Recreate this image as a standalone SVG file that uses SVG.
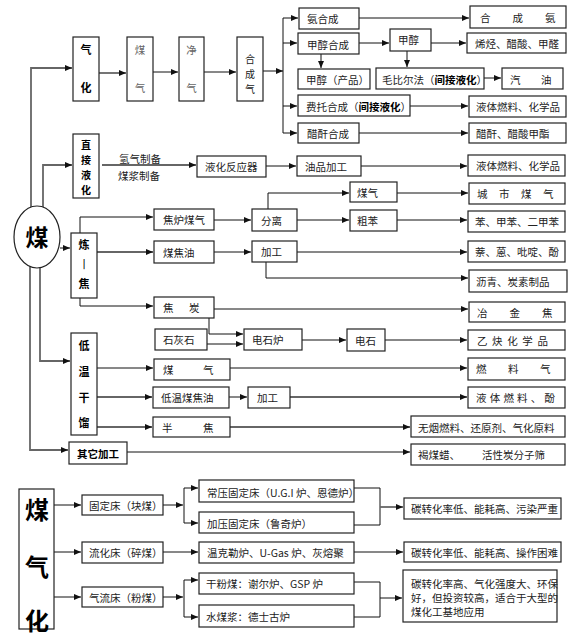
<svg xmlns="http://www.w3.org/2000/svg" width="576" height="635" viewBox="0 0 576 635">
<style>
.b{fill:#fff;stroke:#222;stroke-width:1.2}
.t{font-family:"Noto Sans CJK SC","Liberation Sans",sans-serif;font-size:10.5px;fill:#222;dominant-baseline:central}
.m{text-anchor:middle}
.k{font-weight:bold;fill:#000}
.v{font-size:10px}
.c{stroke:#111;stroke-width:1;fill:none}
.g{stroke:#666;stroke-width:1.8;fill:none}
</style>
<defs>
<marker id="a" markerWidth="7" markerHeight="6" refX="7" refY="3" orient="auto" markerUnits="userSpaceOnUse"><path d="M0,0 L7,3 L0,6 z" fill="#111"/></marker>
</defs>
<g id="connectors">
<path class="g" d="M31,237 V68 H72" marker-end="url(#a)"/>
<path class="g" d="M43,237 V165 H72" marker-end="url(#a)"/>
<path class="g" d="M99,73 H126" marker-end="url(#a)"/>
<path class="c" d="M153,72 H178" marker-end="url(#a)"/>
<path class="c" d="M204,72 H236" marker-end="url(#a)"/>
<path class="c" d="M263,71 H283" marker-end="url(#a)"/>
<path class="c" d="M283,18 V133"/>
<path class="c" d="M283,18 H298" marker-end="url(#a)"/>
<path class="c" d="M283,43 H297" marker-end="url(#a)"/>
<path class="c" d="M283,106 H297" marker-end="url(#a)"/>
<path class="c" d="M283,133 H297" marker-end="url(#a)"/>
<path class="c" d="M359,18 H469" marker-end="url(#a)"/>
<path class="c" d="M359,43 H389" marker-end="url(#a)"/>
<path class="c" d="M321,54 V68" marker-end="url(#a)"/>
<path class="c" d="M431,43 H466" marker-end="url(#a)"/>
<path class="c" d="M407,51 V67" marker-end="url(#a)"/>
<path class="c" d="M484,78 H501" marker-end="url(#a)"/>
<path class="c" d="M410,106 H468" marker-end="url(#a)"/>
<path class="c" d="M359,133 H468" marker-end="url(#a)"/>
<path class="g" d="M102,165 H196" marker-end="url(#a)"/>
<path class="c" d="M266,166 H296" marker-end="url(#a)"/>
<path class="c" d="M361,166 H467" marker-end="url(#a)"/>
<path class="c" d="M60,248 H70" marker-end="url(#a)"/>
<path class="c" d="M80,233 V217 H153" marker-end="url(#a)"/>
<path class="c" d="M214,220 H251" marker-end="url(#a)"/>
<path class="c" d="M268,209 V193 H349" marker-end="url(#a)"/>
<path class="c" d="M397,193 H468" marker-end="url(#a)"/>
<path class="c" d="M297,220 H349" marker-end="url(#a)"/>
<path class="c" d="M397,220 H467" marker-end="url(#a)"/>
<path class="g" d="M97,252 H153" marker-end="url(#a)"/>
<path class="c" d="M214,252 H251" marker-end="url(#a)"/>
<path class="c" d="M297,252 H467" marker-end="url(#a)"/>
<path class="c" d="M266,262 V278 H468" marker-end="url(#a)"/>
<path class="c" d="M80,298 V306 H153" marker-end="url(#a)"/>
<path class="c" d="M214,309 H468" marker-end="url(#a)"/>
<path class="c" d="M209,318 V334 H243" marker-end="url(#a)"/>
<path class="c" d="M207,344 H243" marker-end="url(#a)"/>
<path class="c" d="M302,340 H346" marker-end="url(#a)"/>
<path class="c" d="M385,340 H467" marker-end="url(#a)"/>
<path class="g" d="M40,237 V361 H70" marker-end="url(#a)"/>
<path class="c" d="M97,368 H153" marker-end="url(#a)"/>
<path class="c" d="M230,368 H467" marker-end="url(#a)"/>
<path class="g" d="M97,397 H152" marker-end="url(#a)"/>
<path class="c" d="M229,397 H247" marker-end="url(#a)"/>
<path class="g" d="M290,397 H467" marker-end="url(#a)"/>
<path class="g" d="M97,427 H152" marker-end="url(#a)"/>
<path class="g" d="M230,427 H410" marker-end="url(#a)"/>
<path class="g" d="M30,237 V450 H68" marker-end="url(#a)"/>
<path class="c" d="M127,452 H410" marker-end="url(#a)"/>
<path class="c" d="M54,505 H81" marker-end="url(#a)"/>
<path class="c" d="M163,505 H183" marker-end="url(#a)"/>
<path class="c" d="M184,488 V523"/>
<path class="c" d="M184,488 H198" marker-end="url(#a)"/>
<path class="c" d="M184,523 H198" marker-end="url(#a)"/>
<path class="c" d="M354,488 H380 V525 H354"/>
<path class="g" d="M380,507 H403" marker-end="url(#a)"/>
<path class="c" d="M54,552 H81" marker-end="url(#a)"/>
<path class="c" d="M163,552 H198" marker-end="url(#a)"/>
<path class="c" d="M354,552 H403" marker-end="url(#a)"/>
<path class="c" d="M54,597 H81" marker-end="url(#a)"/>
<path class="c" d="M163,597 H183" marker-end="url(#a)"/>
<path class="c" d="M184,580 V617"/>
<path class="c" d="M184,580 H198" marker-end="url(#a)"/>
<path class="c" d="M184,617 H198" marker-end="url(#a)"/>
<path class="c" d="M354,582 H380 V617 H354"/>
<path class="c" d="M380,598 H402" marker-end="url(#a)"/>
</g>
<g id="coal"><ellipse class="b" cx="37" cy="237" rx="23" ry="31"/><text class="t m k" x="37" y="236" style="font-size:23px">煤</text></g>
<g id="qihua"><rect class="b" x="73" y="37" width="26" height="64"/><text class="t m k" x="86" y="49" style="font-size:11px">气</text><text class="t m k" x="86" y="87" style="font-size:11px">化</text></g>
<g id="meiqi1"><rect class="b" x="127" y="37" width="26" height="64"/><text class="t m" x="140" y="49" style="fill:#666">煤</text><text class="t m" x="140" y="87" style="fill:#666">气</text></g>
<g id="jingqi"><rect class="b" x="179" y="37" width="25" height="64"/><text class="t m" x="191.5" y="49" style="fill:#666">净</text><text class="t m" x="191.5" y="87" style="fill:#666">气</text></g>
<g id="hechengqi"><rect class="b" x="237" y="37" width="26" height="64"/><text class="t m v" x="250" y="58">合</text><text class="t m v" x="250" y="73">成</text><text class="t m v" x="250" y="88">气</text></g>
<g id="anhecheng"><rect class="b" x="299" y="8" width="60" height="21"/><text class="t" x="307" y="18">氨合成</text></g>
<g id="hechengan"><rect class="b" x="470" y="6" width="96" height="22"/><text class="t" x="480" y="17" letter-spacing="22">合成氨</text></g>
<g id="jiachunhecheng"><rect class="b" x="298" y="33" width="61" height="21"/><text class="t" x="307" y="44">甲醇合成</text></g>
<g id="jiachun"><rect class="b" x="390" y="29" width="41" height="22"/><text class="t" x="398" y="39">甲醇</text></g>
<g id="xiting"><rect class="b" x="467" y="33" width="99" height="20"/><text class="t" x="475" y="43">烯烃、醋酸、甲醛</text></g>
<g id="jiachunchanpin"><rect class="b" x="298" y="69" width="72" height="20"/><text class="t" x="306" y="79">甲醇（产品）</text></g>
<g id="maobier"><rect class="b" x="376" y="68" width="108" height="21"/><text class="t" x="382" y="79">毛比尔法（<tspan class="k">间接液化</tspan>）</text></g>
<g id="qiyou"><rect class="b" x="502" y="68" width="61" height="21"/><text class="t" x="510" y="79" letter-spacing="20.5">汽油</text></g>
<g id="feituo"><rect class="b" x="298" y="95" width="112" height="21"/><text class="t" x="306" y="106">费托合成（<tspan class="k">间接液化</tspan>）</text></g>
<g id="yeti1"><rect class="b" x="469" y="96" width="97" height="21"/><text class="t" x="476" y="106">液体燃料、化学品</text></g>
<g id="cuganhecheng"><rect class="b" x="298" y="123" width="61" height="20"/><text class="t" x="307" y="133">醋酐合成</text></g>
<g id="cugan"><rect class="b" x="469" y="123" width="97" height="20"/><text class="t" x="476" y="133">醋酐、醋酸甲酯</text></g>
<g id="zhijieyehua"><rect class="b" x="73" y="134" width="26" height="64"/><text class="t m k v" x="86" y="144">直</text><text class="t m k v" x="86" y="159">接</text><text class="t m k v" x="86" y="174">液</text><text class="t m k v" x="86" y="189">化</text></g>
<g id="zhiqi"><text class="t" x="119" y="158">氢气制备</text><text class="t" x="118" y="175">煤浆制备</text></g>
<g id="yehuafanying"><rect class="b" x="197" y="156" width="69" height="21"/><text class="t" x="205" y="166">液化反应器</text></g>
<g id="youpin"><rect class="b" x="297" y="156" width="64" height="20"/><text class="t" x="305" y="166">油品加工</text></g>
<g id="yeti2"><rect class="b" x="468" y="155" width="97" height="21"/><text class="t" x="476" y="165">液体燃料、化学品</text></g>
<g id="lianjiao"><rect class="b" x="71" y="233" width="26" height="65"/><text class="t m k" x="84" y="244" style="font-size:11px">炼</text><text class="t m k" x="84" y="263" style="font-size:9px">|</text><text class="t m k" x="84" y="283" style="font-size:11px">焦</text></g>
<g id="jiaolumeiqi"><rect class="b" x="154" y="209" width="60" height="21"/><text class="t" x="163" y="219">焦炉煤气</text></g>
<g id="fenli"><rect class="b" x="252" y="209" width="45" height="22"/><text class="t" x="261" y="220">分离</text></g>
<g id="meiqi2"><rect class="b" x="350" y="182" width="47" height="20"/><text class="t" x="357" y="192">煤气</text></g>
<g id="chengshi"><rect class="b" x="469" y="183" width="96" height="21"/><text class="t" x="477" y="193" letter-spacing="11.5">城市煤气</text></g>
<g id="cuben"><rect class="b" x="350" y="210" width="47" height="21"/><text class="t" x="357" y="220">粗苯</text></g>
<g id="ben"><rect class="b" x="468" y="211" width="97" height="21"/><text class="t" x="475" y="221">苯、甲苯、二甲苯</text></g>
<g id="meijiaoyou"><rect class="b" x="154" y="241" width="60" height="22"/><text class="t" x="163" y="252">煤焦油</text></g>
<g id="jiagong1"><rect class="b" x="252" y="241" width="45" height="21"/><text class="t" x="261" y="251">加工</text></g>
<g id="nai"><rect class="b" x="468" y="241" width="97" height="21"/><text class="t" x="475" y="251">萘、蒽、吡啶、酚</text></g>
<g id="liqing"><rect class="b" x="469" y="270" width="98" height="22"/><text class="t" x="476" y="281">沥青、炭素制品</text></g>
<g id="jiaotan"><rect class="b" x="154" y="297" width="60" height="21"/><text class="t" x="163" y="307" letter-spacing="15.5">焦炭</text></g>
<g id="yejinjiao"><rect class="b" x="469" y="302" width="96" height="20"/><text class="t" x="477" y="312" letter-spacing="22">冶金焦</text></g>
<g id="shihuishi"><rect class="b" x="155" y="329" width="52" height="21"/><text class="t" x="163" y="339">石灰石</text></g>
<g id="dianshilu"><rect class="b" x="244" y="329" width="58" height="21"/><text class="t" x="252" y="339">电石炉</text></g>
<g id="dianshi"><rect class="b" x="347" y="329" width="38" height="22"/><text class="t" x="355" y="340">电石</text></g>
<g id="yique"><rect class="b" x="468" y="330" width="97" height="20"/><text class="t" x="477" y="340" letter-spacing="4.6">乙炔化学品</text></g>
<g id="diwen"><rect class="b" x="71" y="333" width="26" height="102"/><text class="t m k" x="84" y="345" style="font-size:11px">低</text><text class="t m k" x="84" y="371" style="font-size:11px">温</text><text class="t m k" x="84" y="397" style="font-size:11px">干</text><text class="t m k" x="84" y="422" style="font-size:11px">馏</text></g>
<g id="meiqi3"><rect class="b" x="154" y="359" width="76" height="21"/><text class="t" x="163" y="369" letter-spacing="29.5">煤气</text></g>
<g id="ranliaoqi"><rect class="b" x="468" y="358" width="97" height="22"/><text class="t" x="476" y="368" letter-spacing="21.5">燃料气</text></g>
<g id="diwenjiaoyou"><rect class="b" x="153" y="387" width="76" height="21"/><text class="t" x="161" y="397">低温煤焦油</text></g>
<g id="jiagong2"><rect class="b" x="248" y="387" width="42" height="21"/><text class="t" x="257" y="397">加工</text></g>
<g id="yetifen"><rect class="b" x="468" y="387" width="97" height="21"/><text class="t" x="476" y="397" letter-spacing="3.2">液体燃料、酚</text></g>
<g id="banjiao"><rect class="b" x="153" y="417" width="77" height="20"/><text class="t" x="162" y="427" letter-spacing="30.5">半焦</text></g>
<g id="wuyan"><rect class="b" x="411" y="416" width="154" height="21"/><text class="t" x="418" y="427">无烟燃料、还原剂、气化原料</text></g>
<g id="qita"><rect class="b" x="69" y="442" width="58" height="22"/><text class="t k" x="77" y="453">其它加工</text></g>
<g id="hemei"><rect class="b" x="411" y="444" width="154" height="21"/><text class="t" x="418" y="454">褐煤蜡、</text><text class="t" x="482" y="454">活性炭分子筛</text></g>
<g id="meiqihua"><rect class="b" x="19" y="489" width="35" height="140"/><text class="t m k" x="37" y="508" style="font-size:24px">煤</text><text class="t m k" x="37" y="565" style="font-size:24px">气</text><text class="t m k" x="37" y="619" style="font-size:24px">化</text></g>
<g id="guding"><rect class="b" x="82" y="495" width="81" height="20"/><text class="t" x="89" y="505">固定床（块煤）</text></g>
<g id="changya"><rect class="b" x="199" y="480" width="155" height="22"/><text class="t" x="207" y="492">常压固定床（U.G.I 炉、恩德炉）</text></g>
<g id="jiaya"><rect class="b" x="199" y="512" width="155" height="21"/><text class="t" x="207" y="523">加压固定床（鲁奇炉）</text></g>
<g id="res1"><rect class="b" x="404" y="498" width="157" height="21"/><text class="t" x="411" y="508">碳转化率低、能耗高、污染严重</text></g>
<g id="liuhua"><rect class="b" x="82" y="542" width="81" height="21"/><text class="t" x="89" y="552">流化床（碎煤）</text></g>
<g id="wenke"><rect class="b" x="199" y="542" width="155" height="21"/><text class="t" x="207" y="552">温克勒炉、U-Gas 炉、灰熔聚</text></g>
<g id="res2"><rect class="b" x="404" y="542" width="157" height="20"/><text class="t" x="411" y="552">碳转化率低、能耗高、操作困难</text></g>
<g id="qiliu"><rect class="b" x="82" y="587" width="81" height="20"/><text class="t" x="89" y="597">气流床（粉煤）</text></g>
<g id="ganfen"><rect class="b" x="199" y="573" width="155" height="21"/><text class="t" x="206" y="583">干粉煤：谢尔炉、GSP 炉</text></g>
<g id="shuimei"><rect class="b" x="199" y="605" width="155" height="22"/><text class="t" x="206" y="616">水煤浆：德士古炉</text></g>
<g id="res3"><rect class="b" x="403" y="570" width="154" height="52"/><text class="t" x="411" y="583">碳转化率高、气化强度大、环保</text><text class="t" x="411" y="597">好，但投资较高，适合于大型的</text><text class="t" x="411" y="611">煤化工基地应用</text></g>
</svg>
